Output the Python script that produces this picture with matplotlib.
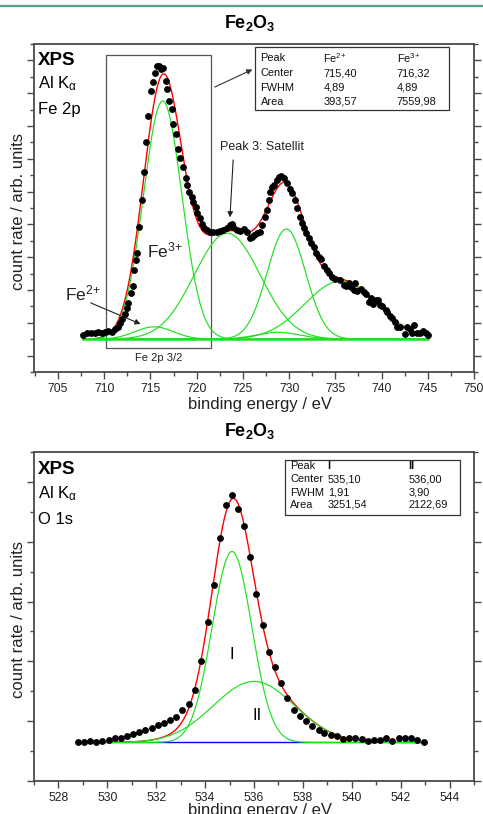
import numpy as np
import matplotlib
matplotlib.use("Agg")
import matplotlib.pyplot as plt
from matplotlib.ticker import MultipleLocator
from matplotlib.lines import Line2D
from matplotlib.patches import Rectangle

plt.rcParams['font.family'] = ['Liberation Sans', 'DejaVu Sans']
plt.rcParams['mathtext.fontset'] = 'custom'
plt.rcParams['mathtext.rm'] = 'Liberation Sans'
plt.rcParams['mathtext.it'] = 'Liberation Sans'
plt.rcParams['mathtext.bf'] = 'Liberation Sans:bold'

# ---------------- Fe 2p spectrum ----------------
fe_energy = [707.71, 708.15, 708.62, 709.01, 709.34, 709.71, 710.07, 710.42, 710.79, 711.15,
             711.51, 711.69, 711.94, 712.23, 712.42, 712.59, 712.88, 713.07, 713.24, 713.43,
             713.57, 713.79, 714.05, 714.25, 714.48, 714.70, 715.02, 715.24, 715.49, 715.67,
             715.92, 716.17, 716.39, 716.65, 716.82, 717.04, 717.30, 717.47, 717.73, 718.02,
             718.23, 718.49, 718.82, 718.99, 719.21, 719.47, 719.64, 719.90, 720.08, 720.37,
             720.55, 720.80, 721.10, 721.40, 721.81, 722.18, 722.54, 722.90, 723.26, 723.55,
             723.80, 723.98, 724.35, 724.71, 725.07, 725.43, 725.72, 725.97, 726.23, 726.51,
             726.80, 727.06, 727.42, 727.60, 727.78, 727.96, 728.14, 728.40, 728.68, 728.90,
             729.15, 729.41, 729.77, 730.06, 730.31, 730.60, 730.85, 731.14, 731.40, 731.58,
             731.87, 732.12, 732.41, 732.66, 732.95, 733.20, 733.42, 733.75, 734.07, 734.29,
             734.65, 735.01, 735.46, 735.91, 736.20, 736.46, 736.71, 737.00, 737.18, 737.36,
             737.79, 738.08, 738.37, 738.63, 738.81, 739.10, 739.35, 739.60, 739.82, 740.07,
             740.43, 740.61, 740.90, 741.16, 741.41, 741.70, 741.99, 742.49, 742.78, 743.07,
             743.33, 743.51, 743.87, 744.16, 744.52, 744.77, 745.02]
fe_counts = [326, 336, 340, 336, 344, 340, 342, 348, 346, 360,
             376, 397, 421, 456, 488, 523, 580, 624, 722, 783,
             827, 986, 1149, 1320, 1504, 1661, 1813, 1868, 1921, 1968,
             1966, 1946, 1952, 1876, 1826, 1752, 1702, 1610, 1551, 1458,
             1403, 1348, 1281, 1240, 1199, 1169, 1138, 1108, 1068, 1040,
             1000, 980, 966, 952, 952, 956, 962, 966, 976, 996,
             1000, 982, 966, 962, 970, 956, 915, 925, 935, 946,
             956, 996, 1047, 1088, 1149, 1200, 1230, 1240, 1271, 1291,
             1297, 1281, 1250, 1214, 1189, 1149, 1098, 1047, 1006, 976,
             945, 915, 884, 860, 823, 803, 788, 746, 724, 704,
             681, 668, 663, 630, 624, 641, 616, 600, 645, 596,
             604, 590, 576, 529, 549, 515, 539, 539, 509, 502,
             478, 468, 441, 427, 407, 376, 376, 332, 372, 360,
             336, 387, 336, 336, 352, 336, 324]

fe_baseline = 300.0
fe_range = (707.7, 745.0)
# fitted Gaussian components: center, FWHM and either area (table peaks) or height
fe_center = [715.40, 716.32, 723.3, 729.7, 735.6, 728.8]
fe_fwhm = [4.89, 4.89, 8.4, 4.9, 9.2, 5.5]
fe_area = [393.57, 7559.98, None, None, None, None]
fe_height = [None, None, 646, 672, 355, 42]

# ---------------- O 1s spectrum ----------------
o_energy = [528.79, 529.05, 529.30, 529.54, 529.79, 530.06, 530.31, 530.55, 530.80, 531.07,
            531.31, 531.56, 531.82, 532.07, 532.32, 532.57, 532.82, 533.07, 533.33, 533.59,
            533.84, 534.10, 534.36, 534.60, 534.85, 535.09, 535.34, 535.59, 535.84, 536.10,
            536.35, 536.62, 536.87, 537.11, 537.37, 537.62, 537.87, 538.13, 538.38, 538.64,
            538.88, 539.14, 539.39, 539.66, 539.90, 540.15, 540.40, 540.66, 540.90, 541.16,
            541.41, 541.65, 541.93, 542.17, 542.42, 542.66, 542.94]
o_counts = [320, 326, 331, 326, 331, 340, 354, 359, 373, 387,
            406, 423, 445, 465, 484, 507, 534, 590, 640, 757,
            1002, 1325, 1639, 2034, 2312, 2390, 2279, 2130, 1870, 1560,
            1305, 1077, 952, 818, 693, 596, 539, 501, 460, 423,
            398, 386, 376, 347, 357, 356, 351, 334, 340, 342,
            356, 331, 356, 354, 354, 337, 320]

o_baseline = 320.0
o_range = (528.8, 543.0)
o_names = ['I', 'II']
o_center = [535.10, 536.00]
o_fwhm = [1.91, 3.90]
o_area = [3251.54, 2122.69]

GAUSS_NORM = np.sqrt(np.pi / (4 * np.log(2)))


def gauss(x, c, w, h):
    return h * np.exp(-4 * np.log(2) * ((x - c) / w) ** 2)


def comma(v):
    return f'{v:.2f}'.replace('.', ',')


GREEN = '#1ee01e'
RED = '#ff0000'
FRAME = '#4a4a4a'
ALPHA_SUB = r'Al K$_\mathrm{α}$'

fig = plt.figure(figsize=(4.83, 8.14), dpi=100)
fig.add_artist(Line2D([0, 1], [1 - 5.5 / 814] * 2, transform=fig.transFigure,
                      color='#58a383', lw=1.6))

ax1 = fig.add_axes([34 / 483, 1 - 372 / 814, 440 / 483, 328 / 814])
ax2 = fig.add_axes([34 / 483, 1 - 780.7 / 814, 440 / 483, 328.4 / 814])


def style_axes(ax):
    for side in ['left', 'right', 'bottom', 'top']:
        ax.spines[side].set_color(FRAME)
        ax.spines[side].set_linewidth(1.3)
    ax.tick_params(which='both', direction='out', color=FRAME, width=1.0,
                   left=True, right=True, top=False, bottom=True,
                   labelleft=False, labelright=False, labelsize=8.7,
                   labelcolor='#222222', pad=3)
    ax.tick_params(which='major', length=5)
    ax.tick_params(which='minor', length=3)


# ---- Fe 2p panel ----
xf = np.linspace(fe_range[0], fe_range[1], 800)
fe_h = [h if a is None else a / (w * GAUSS_NORM)
        for w, a, h in zip(fe_fwhm, fe_area, fe_height)]
fe_total = fe_baseline + sum(gauss(xf, c, w, h) for c, w, h in zip(fe_center, fe_fwhm, fe_h))
ax1.plot(xf, fe_total, color=RED, lw=1.0, zorder=3)
for c, w, h in zip(fe_center, fe_fwhm, fe_h):
    ax1.plot(xf, fe_baseline + gauss(xf, c, w, h), color=GREEN, lw=0.85, zorder=4)
ax1.plot(fe_range, [fe_baseline] * 2, color=GREEN, lw=1.8, zorder=4)
ax1.plot(fe_energy, fe_counts, 'o', color='black', ms=3.9, mec='black', zorder=5)

ax1.set_xlim(702.4, 750.0)
ax1.set_ylim(100, 2100)
ax1.xaxis.set_major_locator(MultipleLocator(5))
ax1.xaxis.set_minor_locator(MultipleLocator(2.5))
ax1.yaxis.set_major_locator(MultipleLocator(200))
ax1.yaxis.set_minor_locator(MultipleLocator(100))
style_axes(ax1)

ax1.add_patch(Rectangle((710.14, 248), 721.53 - 710.14, 2033 - 248, fill=False,
                        ec='#555555', lw=0.9, zorder=2))
ax1.text(0.284, 0.042, 'Fe 2p 3/2', transform=ax1.transAxes, ha='center', va='center',
         fontsize=8, color='#222222')

ax1.text(0.009, 0.951, 'XPS', transform=ax1.transAxes, ha='left', va='center',
         fontsize=13.5, fontweight='bold')
ax1.text(0.009, 0.880, ALPHA_SUB, transform=ax1.transAxes, ha='left', va='center',
         fontsize=12)
ax1.text(0.009, 0.799, 'Fe 2p', transform=ax1.transAxes, ha='left', va='center',
         fontsize=12)

# fit parameter table
ax1.add_patch(Rectangle((0.502, 0.799), 0.442, 0.193, transform=ax1.transAxes,
                        fill=False, ec='#333333', lw=0.9, zorder=6))
fe_rows = [('Peak', r'Fe$^{2}$$^{+}$', r'Fe$^{3}$$^{+}$'),
           ('Center', comma(fe_center[0]), comma(fe_center[1])),
           ('FWHM', comma(fe_fwhm[0]), comma(fe_fwhm[1])),
           ('Area', comma(fe_area[0]), comma(fe_area[1]))]
for (a, b, c), fy in zip(fe_rows, [0.956, 0.911, 0.867, 0.824]):
    for txt, fx in zip((a, b, c), (0.515, 0.6575, 0.824)):
        ax1.text(fx, fy, txt, transform=ax1.transAxes, ha='left', va='center',
                 fontsize=7.9, color='#111111')

ax1.annotate('', xy=(0.502, 0.926), xytext=(0.405, 0.865), xycoords='axes fraction',
             arrowprops=dict(arrowstyle='-|>', color='#333333', lw=0.8,
                             mutation_scale=8))
ax1.text(0.519, 0.685, 'Peak 3: Satellit', transform=ax1.transAxes, ha='center',
         va='center', fontsize=9, color='#222222')
ax1.annotate('', xy=(0.445, 0.463), xytext=(0.453, 0.655), xycoords='axes fraction',
             arrowprops=dict(arrowstyle='-|>', color='#222222', lw=0.8, mutation_scale=8))
ax1.text(0.256, 0.372, r'Fe$^{3}$$^{+}$', transform=ax1.transAxes, ha='left', va='center',
         fontsize=12.5, color='#222222')
ax1.text(0.0705, 0.24, r'Fe$^{2}$$^{+}$', transform=ax1.transAxes, ha='left', va='center',
         fontsize=12.5, color='#222222')
ax1.annotate('', xy=(0.248, 0.143), xytext=(0.123, 0.214), xycoords='axes fraction',
             arrowprops=dict(arrowstyle='-|>', color='#222222', lw=0.8, mutation_scale=8))

# ---- O 1s panel ----
xo = np.linspace(o_range[0], o_range[1], 800)
o_h = [a / (w * GAUSS_NORM) for w, a in zip(o_fwhm, o_area)]
o_total = o_baseline + sum(gauss(xo, c, w, h) for c, w, h in zip(o_center, o_fwhm, o_h))
ax2.plot(o_range, [o_baseline] * 2, color='#0000ff', lw=1.0, zorder=2)
ax2.plot(xo, o_total, color=RED, lw=1.0, zorder=3)
for c, w, h in zip(o_center, o_fwhm, o_h):
    ax2.plot(xo, o_baseline + gauss(xo, c, w, h), color=GREEN, lw=0.85, zorder=4)
ax2.plot(o_energy, o_counts, 'o', color='black', ms=3.9, zorder=5)

ax2.set_xlim(527, 545)
ax2.set_ylim(0, 2750)
ax2.xaxis.set_major_locator(MultipleLocator(2))
ax2.xaxis.set_minor_locator(MultipleLocator(1))
ax2.yaxis.set_major_locator(MultipleLocator(500))
ax2.yaxis.set_minor_locator(MultipleLocator(250))
style_axes(ax2)

ax2.text(0.009, 0.948, 'XPS', transform=ax2.transAxes, ha='left', va='center',
         fontsize=13.5, fontweight='bold')
ax2.text(0.009, 0.875, ALPHA_SUB, transform=ax2.transAxes, ha='left', va='center',
         fontsize=12)
ax2.text(0.009, 0.794, 'O 1s', transform=ax2.transAxes, ha='left', va='center',
         fontsize=12)
ax2.text(0.4507, 0.383, o_names[0], transform=ax2.transAxes, ha='center', va='center',
         fontsize=12)
ax2.text(0.5075, 0.200, o_names[1], transform=ax2.transAxes, ha='center', va='center',
         fontsize=12)

ax2.add_patch(Rectangle((0.570, 0.809), 0.398, 0.168, transform=ax2.transAxes,
                        fill=False, ec='#333333', lw=0.9, zorder=6))
o_rows = [('Peak', o_names[0], o_names[1]),
          ('Center', comma(o_center[0]), comma(o_center[1])),
          ('FWHM', comma(o_fwhm[0]), comma(o_fwhm[1])),
          ('Area', comma(o_area[0]), comma(o_area[1]))]
for i, ((a, b, c), fy) in enumerate(zip(o_rows, [0.958, 0.918, 0.877, 0.840])):
    for j, (txt, fx) in enumerate(zip((a, b, c), (0.582, 0.6675, 0.851))):
        ax2.text(fx, fy, txt, transform=ax2.transAxes, ha='left', va='center',
                 fontsize=7.9, color='#111111',
                 fontweight='bold' if (i == 0 and j > 0) else 'normal')

# titles and axis labels
for yt in (1 - 23 / 814, 1 - 431 / 814):
    fig.text(0.518, yt, r'$\mathbf{Fe_2O_3}$', ha='center', va='center', fontsize=13)
for yl in (1 - 404 / 814, 1 - 810 / 814):
    fig.text(0.538, yl, 'binding energy / eV', ha='center', va='center', fontsize=12,
             color='#222222')
for yc in (1 - 211 / 814, 1 - 619 / 814):
    fig.text(0.038, yc, 'count rate / arb. units', ha='center', va='center', fontsize=12,
             rotation=90, color='#222222')

fig.savefig('out.png', dpi=100, facecolor='white')
